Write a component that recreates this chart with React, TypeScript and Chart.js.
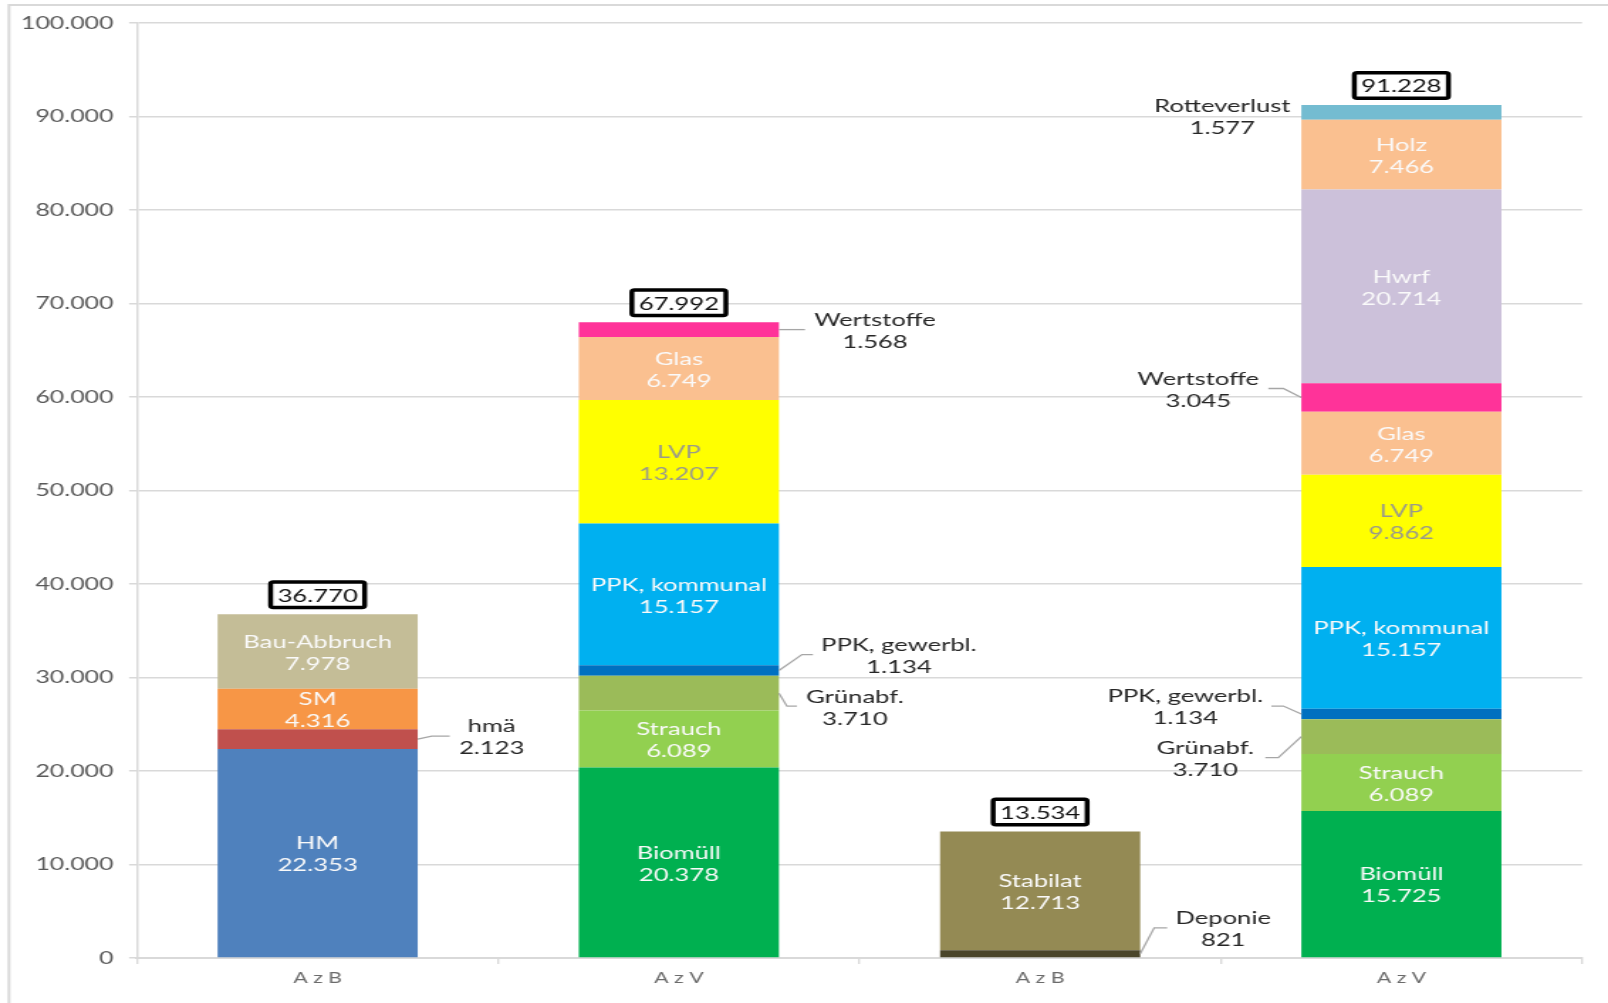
import React, { useEffect, useRef } from 'react';
import { Chart, registerables } from 'chart.js';

Chart.register(...registerables);

// ---------- data ----------
const categories = ['A z B', 'A z V', 'A z B', 'A z V'];
const yMin = 0;
const yMax = 100000;
const yStep = 10000;

const HM = [22353, null, null, null];
const hmae = [2123, null, null, null];
const SM = [4316, null, null, null];
const bauAbbruch = [7978, null, null, null];
const deponie = [null, null, 821, null];
const stabilat = [null, null, 12713, null];
const biomuell = [null, 20378, null, 15725];
const strauch = [null, 6089, null, 6089];
const gruenabf = [null, 3710, null, 3710];
const ppkGewerbl = [null, 1134, null, 1134];
const ppkKommunal = [null, 15157, null, 15157];
const lvp = [null, 13207, null, 9862];
const glas = [null, 6749, null, 6749];
const wertstoffe = [null, 1568, null, 3045];
const hwrf = [null, null, null, 20714];
const holz = [null, null, null, 7466];
const rotteverlust = [null, null, null, 1577];

const seriesLabels = [
  'HM', 'hmä', 'SM', 'Bau-Abbruch', 'Deponie', 'Stabilat', 'Biomüll', 'Strauch',
  'Grünabf.', 'PPK, gewerbl.', 'PPK, kommunal', 'LVP', 'Glas', 'Wertstoffe', 'Hwrf', 'Holz', 'Rotteverlust',
];
const seriesValues = [
  HM, hmae, SM, bauAbbruch, deponie, stabilat, biomuell, strauch,
  gruenabf, ppkGewerbl, ppkKommunal, lvp, glas, wertstoffe, hwrf, holz, rotteverlust,
];
const seriesColors = [
  '#4F81BD', '#C0504D', '#F79646', '#C4BD97', '#4A452A', '#948A54', '#00B050', '#92D050',
  '#9BBB59', '#0070C0', '#00B0F0', '#FFFF00', '#FAC090', '#FF3399', '#CCC1DA', '#FAC090', '#74BCD1',
];
const innerTextColors: Record<string, string> = { LVP: '#9A9A8A' };

// callouts (styling): offsets in screen px from bar edge / segment centre
const callouts = [
  { series: 'hmä', cat: 0, dx: 74, dy: -3, a: 14, b: 32 },
  { series: 'Wertstoffe', cat: 1, dx: 96, dy: 0, a: 0, b: 26 },
  { series: 'PPK, gewerbl.', cat: 1, dx: 120, dy: -16, a: 23, b: 34 },
  { series: 'Grünabf.', cat: 1, dx: 76, dy: 13, a: 8, b: 18 },
  { series: 'Deponie', cat: 2, dx: 83, dy: -26, a: 14, b: 27 },
  { series: 'Rotteverlust', cat: 3, dx: -79, dy: 3, a: 0, b: 0 },
  { series: 'Wertstoffe', cat: 3, dx: -103, dy: -9, a: 18, b: 33 },
  { series: 'PPK, gewerbl.', cat: 3, dx: -116, dy: -8, a: 18, b: 30 },
  { series: 'Grünabf.', cat: 3, dx: -96, dy: 21, a: 23, b: 36 },
];

// ---------- layout ----------
const FULL_W = 1608;
const FULL_H = 1003;
const INNER_W = 1132;
const SX = FULL_W / INNER_W;
const FONT = 'Lato, "Open Sans", sans-serif';

const fmt = (v: number) => String(Math.round(v)).replace(/\B(?=(\d{3})+(?!\d))/g, '.');

const labelPlugin = {
  id: 'excelLabels',
  beforeDraw(chart: any) {
    const ctx = chart.ctx;
    ctx.save();
    ctx.strokeStyle = '#D9D9D9';
    ctx.lineWidth = 2;
    ctx.beginPath();
    ctx.moveTo(9 / SX, FULL_H + 5);
    ctx.lineTo(9 / SX, 5);
    ctx.lineTo(INNER_W + 5, 5);
    ctx.stroke();
    ctx.restore();
  },
  afterDatasetsDraw(chart: any) {
    const ctx = chart.ctx;
    ctx.save();
    ctx.textAlign = 'center';
    ctx.textBaseline = 'middle';
    ctx.font = `18px ${FONT}`;
    const lineGap = 11;
    const yAdj = 1.5;
    chart.data.datasets.forEach((ds: any, di: number) => {
      const meta = chart.getDatasetMeta(di);
      meta.data.forEach((el: any, ci: number) => {
        const v = ds.data[ci];
        if (v == null) return;
        const { x, y, base, width } = el.getProps(['x', 'y', 'base', 'width'], true);
        const segY = (y + base) / 2;
        const lines = [ds.label, fmt(v)];
        const co = callouts.find((c) => c.series === ds.label && c.cat === ci);
        if (co) {
          const sign = Math.sign(co.dx);
          const edge = sign > 0 ? x + width / 2 : x - width / 2;
          const ly = segY + co.dy;
          if (co.b > 0) {
            ctx.strokeStyle = '#A6A6A6';
            ctx.lineWidth = 1.3;
            ctx.beginPath();
            ctx.moveTo(edge, segY);
            ctx.lineTo(edge + (sign * co.a) / SX, ly);
            ctx.lineTo(edge + (sign * co.b) / SX, ly);
            ctx.stroke();
          }
          ctx.fillStyle = '#262626';
          const cx = edge + co.dx / SX;
          ctx.fillText(lines[0], cx, ly - lineGap + yAdj);
          ctx.fillText(lines[1], cx, ly + lineGap + yAdj);
        } else {
          ctx.fillStyle = innerTextColors[ds.label] || '#FAFAFA';
          ctx.fillText(lines[0], x, segY - lineGap + yAdj);
          ctx.fillText(lines[1], x, segY + lineGap + yAdj);
        }
      });
    });

    // totals in boxes
    const yScale = chart.scales.y;
    categories.forEach((_, ci) => {
      let total = 0;
      let cx = 0;
      chart.data.datasets.forEach((ds: any, di: number) => {
        const v = ds.data[ci];
        if (v == null) return;
        total += v;
        cx = chart.getDatasetMeta(di).data[ci].x;
      });
      const top = yScale.getPixelForValue(total);
      const cy = top - 19.5;
      const lw = 3.5;
      const bw = 99 / SX - lw;
      const bh = 29 - lw;
      ctx.fillStyle = '#FFFFFF';
      ctx.strokeStyle = '#000000';
      ctx.lineWidth = lw;
      ctx.beginPath();
      if (ctx.roundRect) ctx.roundRect(cx - bw / 2, cy - bh / 2, bw, bh, 2);
      else ctx.rect(cx - bw / 2, cy - bh / 2, bw, bh);
      ctx.fill();
      ctx.stroke();
      ctx.fillStyle = '#111111';
      ctx.font = `18px ${FONT}`;
      ctx.fillText(fmt(total), cx, cy + 1);
    });
    ctx.restore();
  },
};

export default function App() {
  const ref = useRef<HTMLCanvasElement | null>(null);

  useEffect(() => {
    const canvas = ref.current;
    if (!canvas) return;
    const chart = new Chart(canvas, {
      type: 'bar',
      data: {
        labels: categories,
        datasets: seriesLabels.map((label, i) => ({
          label,
          data: seriesValues[i],
          backgroundColor: seriesColors[i],
          borderWidth: 0,
          categoryPercentage: 1,
          barPercentage: 0.554,
        })),
      },
      options: {
        animation: false,
        responsive: false,
        devicePixelRatio: 1,
        events: [],
        layout: {
          padding: { left: 0, top: 23, right: INNER_W - 1582 / SX, bottom: 0 },
        },
        plugins: {
          legend: { display: false },
          tooltip: { enabled: false },
          title: { display: false },
        },
        scales: {
          x: {
            stacked: true,
            ticks: { color: '#6B6B6B', font: { family: FONT, size: 15 }, padding: 5 },
            grid: {
              display: true,
              drawOnChartArea: false,
              drawTicks: true,
              tickLength: 6,
              color: '#D9D9D9',
              lineWidth: 1.4,
              offset: true,
            },
            border: { display: true, color: '#D9D9D9', width: 2 },
            afterFit: (s: any) => {
              s.height = FULL_H - 958;
            },
          },
          y: {
            stacked: true,
            min: yMin,
            max: yMax,
            ticks: {
              stepSize: yStep,
              color: '#595959',
              font: { family: FONT, size: 17.5 },
              padding: 11,
              callback: (v: any) => fmt(Number(v)),
            },
            grid: { color: '#D9D9D9', lineWidth: 1.5, tickLength: 5.6, drawTicks: true },
            border: { display: true, color: '#D9D9D9', width: 1.5 },
            afterFit: (s: any) => {
              s.width = 137 / SX;
            },
          },
        },
      },
      plugins: [labelPlugin],
    });
    let alive = true;
    if ((document as any).fonts && (document as any).fonts.load) {
      (document as any).fonts.load(`17px Lato`).then(() => {
        if (alive) chart.update();
      });
    }
    return () => {
      alive = false;
      chart.destroy();
    };
  }, []);

  return (
    <div style={{ position: 'absolute', left: 0, top: 0, width: FULL_W, height: FULL_H, background: '#FFFFFF' }}>
      <canvas
        ref={ref}
        width={INNER_W}
        height={FULL_H}
        style={{ width: `${FULL_W}px`, height: `${FULL_H}px`, display: 'block' }}
      />
    </div>
  );
}
